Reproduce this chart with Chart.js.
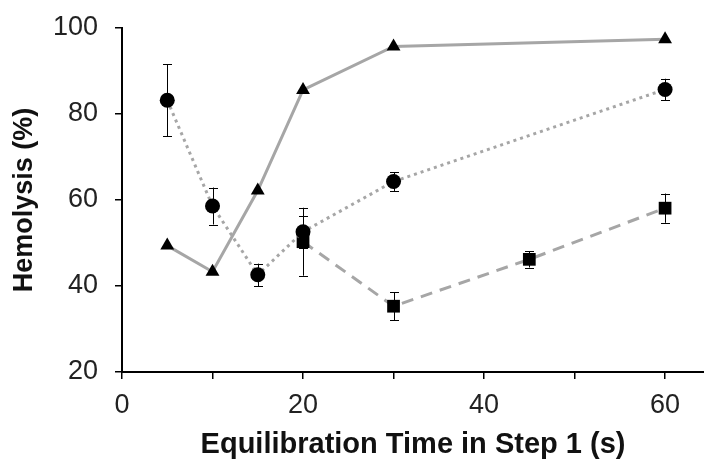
<!DOCTYPE html>
<html>
<head>
<meta charset="utf-8">
<script src="https://cdn.jsdelivr.net/npm/chart.js@4"></script>
<style>
  html, body { margin: 0; padding: 0; background: #fff; }
  #wrap { width: 704px; height: 462px; }
</style>
</head>
<body>
<div id="wrap"><canvas id="myChart" width="704" height="462"></canvas></div>
<script>
// data
const triTimes = [5, 10, 15, 20, 30, 60];
const triValues = [49.4, 43.3, 62.2, 85.6, 95.7, 97.4];

const circTimes = [5, 10, 15, 20, 30, 60];
const circValues = [83.2, 58.6, 42.6, 52.6, 64.3, 85.7];
const circErr = [8.4, 4.3, 2.6, 3.7, 2.2, 2.5];

const sqTimes = [20, 30, 45, 60];
const sqValues = [50.3, 35.3, 46.2, 58.1];
const sqErr = [7.9, 3.3, 1.9, 3.4];

const xTickValues = [0, 10, 20, 30, 40, 50, 60];
const xLabelValues = [0, 20, 40, 60];
const yTickValues = [20, 40, 60, 80, 100];

const lineGray = "#a6a6a6";

function toPoints(xs, ys) {
  return xs.map((x, i) => ({ x: x, y: ys[i] }));
}

// error bars drawn with the chart's own scales
const errorBars = {
  id: "errorBars",
  beforeDatasetsDraw(chart) {
    const ctx = chart.ctx;
    const xs = chart.scales.x;
    const ys = chart.scales.y;
    ctx.save();
    ctx.strokeStyle = "#000";
    ctx.lineWidth = 1;
    chart.data.datasets.forEach((ds) => {
      if (!ds.errors) return;
      ds.data.forEach((p, i) => {
        const e = ds.errors[i];
        const px = Math.round(xs.getPixelForValue(p.x)) + 0.5;
        const top = ys.getPixelForValue(p.y + e);
        const bot = ys.getPixelForValue(p.y - e);
        ctx.beginPath();
        ctx.moveTo(px, top);
        ctx.lineTo(px, bot);
        ctx.moveTo(px - 4.5, Math.round(top) + 0.5);
        ctx.lineTo(px + 4.5, Math.round(top) + 0.5);
        ctx.moveTo(px - 4.5, Math.round(bot) + 0.5);
        ctx.lineTo(px + 4.5, Math.round(bot) + 0.5);
        ctx.stroke();
      });
    });
    ctx.restore();
  },
};

function main() {
  const ctx = document.getElementById("myChart").getContext("2d");
  new Chart(ctx, {
    type: "line",
    data: {
      datasets: [
        {
          label: "triangles",
          data: toPoints(triTimes, triValues),
          borderColor: lineGray,
          borderWidth: 3,
          pointStyle: "triangle",
          pointRadius: 8,
          pointBackgroundColor: "#000",
          pointBorderWidth: 0,
          fill: false,
        },
        {
          label: "circles",
          data: toPoints(circTimes, circValues),
          errors: circErr,
          borderColor: lineGray,
          borderWidth: 3,
          borderDash: [3, 4],
          pointStyle: "circle",
          pointRadius: 7.5,
          pointBackgroundColor: "#000",
          pointBorderWidth: 0,
          fill: false,
        },
        {
          label: "squares",
          data: toPoints(sqTimes, sqValues),
          errors: sqErr,
          borderColor: lineGray,
          borderWidth: 3,
          borderDash: [12, 8],
          pointStyle: "rect",
          pointRadius: 9,
          pointBackgroundColor: "#000",
          pointBorderWidth: 0,
          fill: false,
        },
      ],
    },
    options: {
      responsive: false,
      animation: false,
      clip: false,
      layout: { autoPadding: false, padding: { top: 28, right: 0, left: 0, bottom: 0 } },
      plugins: { legend: { display: false }, tooltip: { enabled: false } },
      scales: {
        x: {
          type: "linear",
          position: "bottom",
          min: 0,
          max: 64.3,
          afterBuildTicks(scale) {
            scale.ticks = xTickValues.map((v) => ({ value: v }));
          },
          afterFit(scale) {
            scale.height = 90;
          },
          border: { color: "#000", width: 2 },
          grid: { drawOnChartArea: false, drawTicks: true, tickLength: 7, color: "#000", lineWidth: 1.5 },
          ticks: {
            autoSkip: false,
            maxRotation: 0,
            padding: 10,
            color: "#222",
            font: { family: "'Liberation Sans', Arial, sans-serif", size: 27 },
            callback: (v) => (xLabelValues.includes(v) ? String(v) : ""),
          },
          title: {
            display: true,
            text: "Equilibration Time in Step 1 (s)",
            color: "#111",
            padding: { top: 0, bottom: 0 },
            font: { family: "'Liberation Sans', Arial, sans-serif", size: 29, weight: "bold" },
          },
        },
        y: {
          min: 20,
          max: 100,
          afterBuildTicks(scale) {
            scale.ticks = yTickValues.map((v) => ({ value: v }));
          },
          afterFit(scale) {
            scale.width = 122;
            scale.paddingTop = 0;
            scale.paddingBottom = 0;
          },
          border: { color: "#000", width: 2 },
          grid: { drawOnChartArea: false, drawTicks: true, tickLength: 7, color: "#000", lineWidth: 1.5 },
          ticks: {
            padding: 17,
            color: "#222",
            font: { family: "'Liberation Sans', Arial, sans-serif", size: 27 },
          },
          title: {
            display: true,
            text: "Hemolysis (%)",
            color: "#111",
            padding: { top: 8, bottom: 0 },
            font: { family: "'Liberation Sans', Arial, sans-serif", size: 27, weight: "bold" },
          },
        },
      },
    },
    plugins: [errorBars],
  });
}

document.addEventListener("DOMContentLoaded", main);
</script>
</body>
</html>
